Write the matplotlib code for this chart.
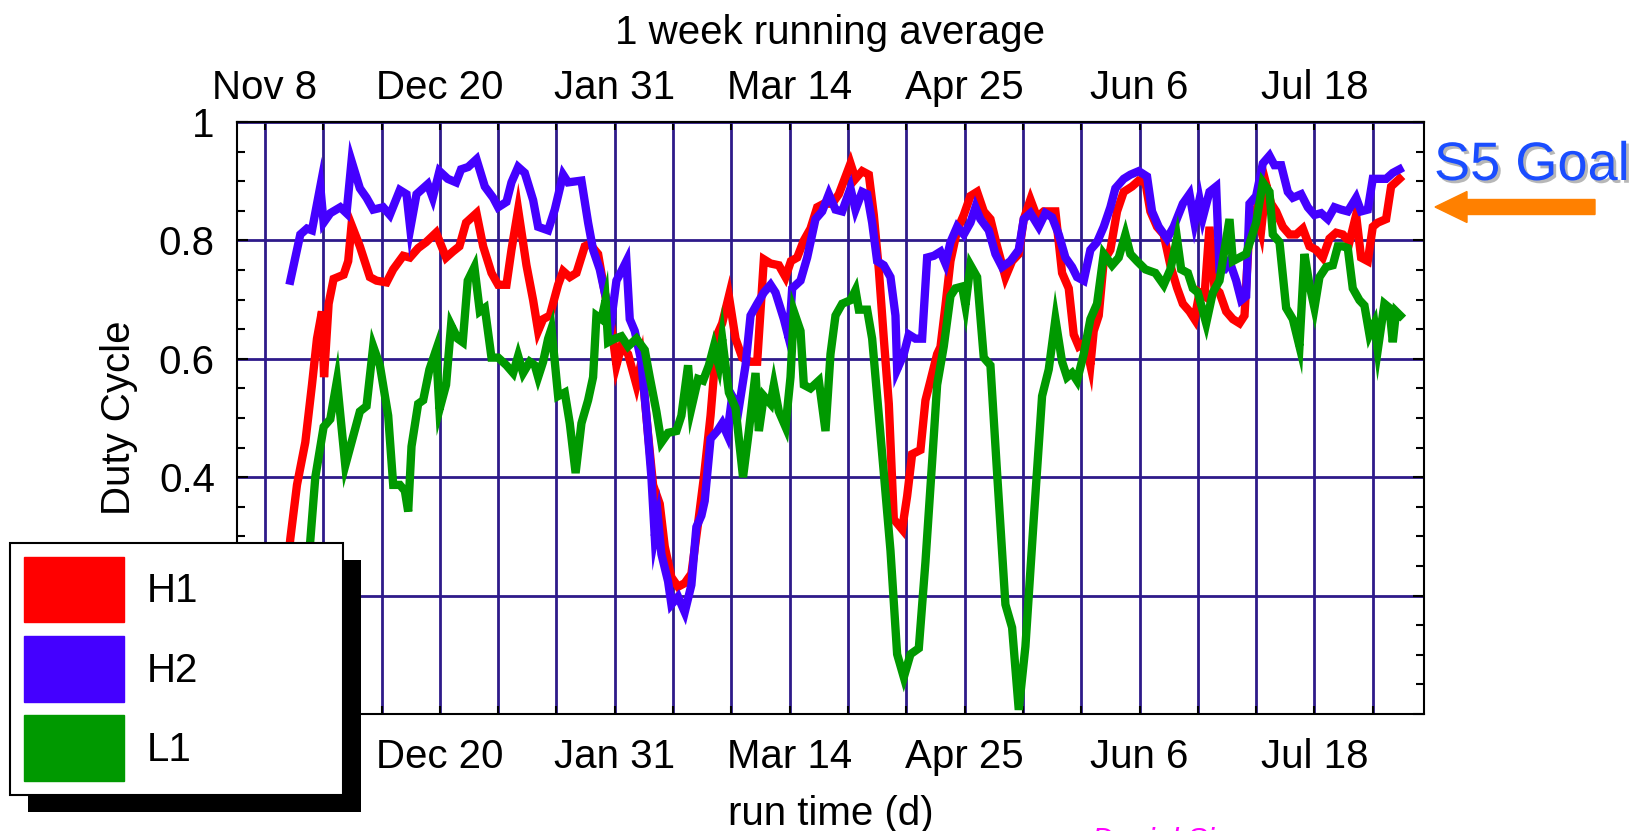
import matplotlib
matplotlib.use('Agg')
import matplotlib.pyplot as plt
import matplotlib.patheffects as pe
from matplotlib.patches import Rectangle, FancyArrow
from matplotlib.ticker import MultipleLocator, FuncFormatter

plt.rcParams['font.family'] = ['Liberation Sans', 'DejaVu Sans']

# run time in days, counted from Nov 8
h1_days = [5.0, 6.1, 7.7, 9.7, 11.3, 12.5, 13.7, 14.2, 15.3, 16.5, 18.9, 20.0, 20.8, 22.8, 25.2, 26.8,
           29.2, 30.8, 33.2, 34.8, 36.8, 38.7, 41.1, 43.5, 45.1, 46.7, 48.3, 50.8, 52.4, 54.4, 56.0,
           58.0, 59.2, 60.8, 62.8, 64.4, 65.6, 66.8, 68.4, 70.4, 71.6, 73.2, 74.8, 76.8, 78.0, 80.0,
           81.6, 83.2, 84.4, 85.6, 87.2, 89.2, 90.4, 92.0, 93.2, 94.8, 96.0, 97.6, 99.2, 100.8, 102.4,
           104.0, 105.4, 107.0, 108.6, 109.8, 111.4, 113.0, 114.6, 116.6, 118.2, 119.8, 121.4, 123.4,
           125.0, 126.3, 127.8, 129.4, 131.0, 132.6, 134.2, 136.2, 137.8, 139.4, 140.6, 141.8, 143.4,
           145.0, 146.2, 147.4, 148.6, 149.8, 151.0, 153.0, 154.2, 155.4, 157.4, 158.6, 159.8, 161.4,
           162.2, 163.4, 164.6, 166.2, 167.8, 169.4, 171.0, 172.6, 174.2, 175.8, 177.8, 179.4, 181.0,
           182.2, 183.8, 185.4, 187.0, 189.8, 191.4, 193.0, 194.2, 195.4, 197.0, 198.2, 199.0, 200.2,
           201.4, 203.0, 204.6, 206.2, 208.2, 209.8, 211.4, 212.6, 214.2, 215.8, 217.4, 219.0, 220.4,
           222.0, 223.2, 224.4, 225.6, 226.8, 228.0, 229.2, 230.8, 232.4, 234.0, 235.2, 236.4, 238.0,
           239.2, 240.4, 241.6, 242.8, 244.4, 246.0, 247.6, 249.2, 250.8, 252.4, 254.0, 255.6, 257.2,
           258.8, 260.4, 262.0, 263.2, 264.8, 266.0, 267.2, 269.2, 270.4, 272.4]
h1_duty = [0.22, 0.296, 0.387, 0.459, 0.556, 0.634, 0.68, 0.569, 0.693, 0.735, 0.742, 0.765, 0.826,
           0.79, 0.738, 0.732, 0.729, 0.751, 0.774, 0.771, 0.787, 0.797, 0.813, 0.771, 0.781, 0.79,
           0.83, 0.846, 0.79, 0.745, 0.725, 0.725, 0.784, 0.852, 0.758, 0.699, 0.647, 0.667, 0.673,
           0.725, 0.748, 0.738, 0.745, 0.79, 0.794, 0.777, 0.712, 0.654, 0.589, 0.621, 0.608, 0.556,
           0.595, 0.472, 0.387, 0.355, 0.283, 0.231, 0.215, 0.221, 0.237, 0.322, 0.40, 0.504, 0.641,
           0.66, 0.706, 0.634, 0.602, 0.595, 0.595, 0.768, 0.761, 0.758, 0.738, 0.765, 0.771, 0.80,
           0.82, 0.856, 0.862, 0.862, 0.878, 0.908, 0.93, 0.904, 0.917, 0.911, 0.843, 0.751, 0.634,
           0.524, 0.329, 0.312, 0.368, 0.439, 0.446, 0.53, 0.563, 0.608, 0.62, 0.69, 0.765, 0.817,
           0.843, 0.875, 0.882, 0.849, 0.836, 0.79, 0.738, 0.765, 0.777, 0.836, 0.869, 0.839, 0.849,
           0.849, 0.745, 0.719, 0.641, 0.621, 0.628, 0.589, 0.647, 0.673, 0.765, 0.784, 0.849, 0.882,
           0.891, 0.901, 0.898, 0.849, 0.823, 0.81, 0.758, 0.72, 0.693, 0.68, 0.667, 0.712, 0.706,
           0.823, 0.72, 0.712, 0.68, 0.667, 0.66, 0.673, 0.823, 0.852, 0.817, 0.895, 0.862, 0.849,
           0.823, 0.81, 0.81, 0.82, 0.79, 0.784, 0.771, 0.803, 0.813, 0.81, 0.797, 0.843, 0.771,
           0.765, 0.823, 0.83, 0.836, 0.891, 0.904]

h2_days = [6.1, 8.5, 10.1, 11.3, 13.3, 14.1, 15.7, 18.1, 19.6, 20.8, 22.8, 24.4, 26.0, 28.4, 30.0,
           32.4, 34.0, 34.9, 36.4, 39.1, 40.3, 41.9, 43.9, 45.9, 47.1, 48.8, 50.8, 52.8, 54.8, 56.0,
           58.0, 59.2, 60.8, 62.4, 64.4, 65.6, 68.0, 69.6, 71.6, 72.8, 76.0, 77.6, 78.8, 80.4, 82.0,
           83.2, 84.4, 85.6, 86.8, 87.6, 88.8, 90.4, 91.6, 92.8, 93.6, 94.4, 95.2, 96.8, 97.6, 99.2,
           100.8, 102.4, 103.6, 104.8, 105.6, 107.0, 108.6, 109.8, 111.0, 112.2, 113.8, 115.4, 116.6,
           118.2, 119.8, 121.4, 122.6, 124.6, 125.8, 126.6, 128.6, 130.2, 132.2, 133.8, 135.4, 137.0,
           138.6, 140.6, 141.8, 143.4, 144.6, 145.8, 147.0, 148.6, 150.2, 151.4, 151.8, 153.4, 154.6,
           156.2, 157.8, 159.0, 160.6, 162.2, 163.4, 164.6, 166.2, 167.8, 169.4, 170.6, 171.8, 173.8,
           175.4, 177.0, 179.0, 181.0, 182.2, 183.8, 185.8, 187.4, 189.0, 190.6, 192.2, 193.8, 195.0,
           196.6, 198.2, 199.8, 201.4, 203.0, 204.2, 206.2, 207.8, 209.8, 211.8, 213.0, 214.6, 216.6,
           218.2, 220.4, 222.0, 223.2, 224.4, 225.2, 226.8, 228.4, 229.2, 230.4, 231.6, 233.2, 234.4,
           235.6, 236.4, 238.0, 239.6, 241.2, 242.4, 244.0, 245.6, 246.8, 248.8, 250.4, 252.0, 253.6,
           255.2, 256.8, 258.4, 260.0, 262.0, 263.2, 264.8, 266.0, 267.2, 269.2, 270.8, 272.4]
h2_duty = [0.732, 0.81, 0.82, 0.817, 0.891, 0.83, 0.846, 0.856, 0.846, 0.934, 0.888, 0.872, 0.852,
           0.856, 0.843, 0.885, 0.878, 0.82, 0.878, 0.895, 0.872, 0.917, 0.904, 0.898, 0.92, 0.924,
           0.937, 0.891, 0.872, 0.856, 0.865, 0.898, 0.924, 0.914, 0.868, 0.823, 0.817, 0.852, 0.911,
           0.898, 0.901, 0.83, 0.784, 0.751, 0.699, 0.667, 0.732, 0.748, 0.765, 0.667, 0.647, 0.595,
           0.504, 0.40, 0.30, 0.33, 0.27, 0.224, 0.185, 0.198, 0.172, 0.218, 0.316, 0.335, 0.36,
           0.465, 0.478, 0.491, 0.472, 0.537, 0.517, 0.589, 0.673, 0.693, 0.712, 0.725, 0.712, 0.667,
           0.634, 0.719, 0.732, 0.771, 0.836, 0.849, 0.878, 0.852, 0.849, 0.888, 0.852, 0.882, 0.878,
           0.83, 0.765, 0.758, 0.738, 0.673, 0.582, 0.608, 0.641, 0.634, 0.634, 0.771, 0.774, 0.781,
           0.761, 0.797, 0.823, 0.81, 0.83, 0.856, 0.836, 0.817, 0.777, 0.755, 0.765, 0.784, 0.836,
           0.846, 0.823, 0.846, 0.839, 0.81, 0.771, 0.755, 0.738, 0.732, 0.784, 0.797, 0.823, 0.856,
           0.888, 0.904, 0.911, 0.917, 0.908, 0.849, 0.823, 0.803, 0.823, 0.862, 0.878, 0.83, 0.869,
           0.839, 0.882, 0.891, 0.751, 0.751, 0.765, 0.732, 0.699, 0.706, 0.862, 0.875, 0.93, 0.943,
           0.927, 0.927, 0.882, 0.872, 0.878, 0.856, 0.843, 0.846, 0.836, 0.856, 0.852, 0.849, 0.872,
           0.849, 0.852, 0.904, 0.904, 0.904, 0.914, 0.92]

l1_days = [10.2, 10.9, 12.1, 14.1, 15.7, 17.3, 19.3, 21.3, 22.8, 24.4, 26.0, 27.6, 29.6, 30.8, 32.4,
           33.6, 34.4, 35.2, 36.8, 38.0, 39.5, 41.1, 41.9, 43.5, 44.7, 46.3, 47.5, 48.7, 50.3, 51.6,
           52.8, 54.4, 56.0, 58.0, 59.6, 60.8, 62.0, 63.6, 64.8, 65.6, 66.8, 68.0, 68.8, 69.6, 70.4,
           72.0, 73.2, 74.6, 76.0, 77.6, 78.8, 79.6, 80.8, 81.8, 82.4, 84.0, 85.6, 87.2, 89.2, 91.2,
           92.4, 94.0, 95.2, 96.8, 98.8, 100.0, 101.6, 102.4, 104.0, 105.2, 106.6, 107.8, 109.0,
           109.8, 111.4, 113.0, 114.8, 116.2, 117.8, 118.6, 119.8, 121.4, 122.2, 123.4, 125.0, 126.2,
           127.0, 128.6, 129.4, 131.0, 133.0, 134.6, 135.8, 137.0, 138.6, 140.6, 141.8, 142.6, 144.6,
           145.8, 147.0, 148.6, 150.2, 151.8, 153.4, 155.0, 157.0, 158.6, 160.2, 161.4, 163.0, 164.6,
           165.8, 167.4, 168.2, 169.4, 171.0, 172.6, 174.2, 175.8, 177.8, 179.4, 181.0, 182.6, 184.6,
           186.6, 188.2, 189.8, 191.4, 192.6, 193.8, 195.0, 196.6, 198.2, 199.8, 201.4, 203.4, 205.0,
           206.6, 207.8, 209.4, 211.4, 213.8, 215.8, 217.4, 219.0, 220.0, 221.6, 222.8, 224.0, 226.0,
           227.6, 229.2, 231.6, 232.4, 234.0, 235.6, 238.0, 239.6, 241.2, 242.0, 243.6, 245.2, 246.8,
           248.4, 249.6, 250.8, 252.0, 253.2, 254.8, 256.4, 257.6, 258.8, 260.0, 261.2, 262.8, 264.0,
           265.2, 266.4, 267.2, 268.8, 270.0, 270.8, 271.6, 272.6]
l1_duty = [0.24, 0.293, 0.40, 0.485, 0.498, 0.563, 0.42, 0.472, 0.511, 0.52, 0.621, 0.589, 0.504,
           0.387, 0.387, 0.377, 0.342, 0.452, 0.524, 0.53, 0.582, 0.615, 0.514, 0.556, 0.657, 0.634,
           0.628, 0.732, 0.755, 0.68, 0.686, 0.602, 0.602, 0.589, 0.576, 0.605, 0.576, 0.595, 0.589,
           0.569, 0.595, 0.634, 0.651, 0.595, 0.537, 0.543, 0.491, 0.407, 0.491, 0.53, 0.569, 0.673,
           0.667, 0.699, 0.628, 0.634, 0.638, 0.621, 0.634, 0.615, 0.569, 0.511, 0.459, 0.475, 0.478,
           0.504, 0.589, 0.517, 0.566, 0.563, 0.589, 0.621, 0.589, 0.634, 0.543, 0.517, 0.40, 0.478,
           0.576, 0.478, 0.537, 0.524, 0.556, 0.511, 0.485, 0.569, 0.68, 0.647, 0.556, 0.55, 0.563,
           0.478, 0.608, 0.673, 0.693, 0.699, 0.716, 0.683, 0.683, 0.634, 0.537, 0.407, 0.276, 0.101,
           0.062, 0.101, 0.111, 0.257, 0.426, 0.556, 0.621, 0.706, 0.719, 0.722, 0.69, 0.758, 0.738,
           0.602, 0.589, 0.407, 0.185, 0.146, 0.007, 0.114, 0.329, 0.537, 0.582, 0.667, 0.595, 0.569,
           0.576, 0.563, 0.608, 0.667, 0.693, 0.777, 0.758, 0.771, 0.81, 0.777, 0.765, 0.751, 0.745,
           0.725, 0.751, 0.803, 0.751, 0.745, 0.719, 0.712, 0.66, 0.712, 0.732, 0.836, 0.765, 0.771,
           0.777, 0.83, 0.898, 0.882, 0.81, 0.797, 0.686, 0.667, 0.621, 0.777, 0.725, 0.686, 0.738,
           0.755, 0.758, 0.79, 0.79, 0.787, 0.719, 0.699, 0.69, 0.641, 0.66, 0.615, 0.693, 0.686,
           0.628, 0.68, 0.673]

date_ticks = [0, 42, 84, 126, 168, 210, 252]
date_labels = ['Nov 8', 'Dec 20', 'Jan 31', 'Mar 14', 'Apr 25', 'Jun 6', 'Jul 18']
duty_ticks = [0, 0.2, 0.4, 0.6, 0.8, 1]
duty_labels = ['0', '0.2', '0.4', '0.6', '0.8', '1']
series_names = ['H1', 'H2', 'L1']
series_colors = ['#ff0000', '#4400ff', '#009900']

FS = 29
GRID = '#2e1a8a'

fig = plt.figure(figsize=(16.39, 8.31), dpi=100)
ax = fig.add_axes([237 / 1639, 1 - 714 / 831, 1187 / 1639, 592 / 831])

for days, duty, c in zip([h1_days, h2_days, l1_days], [h1_duty, h2_duty, l1_duty], series_colors):
    ax.plot(days, duty, color=c, lw=6, solid_joinstyle='miter', zorder=3)

ax.set_xlim(-6.7, 278.3)
ax.set_ylim(0, 1)

# grid every two weeks, labels every six
ax.xaxis.set_major_locator(MultipleLocator(14))
ax.xaxis.set_major_formatter(FuncFormatter(
    lambda v, p: date_labels[date_ticks.index(int(round(v)))] if int(round(v)) in date_ticks else ''))
ax.set_yticks(duty_ticks, duty_labels)
ax.yaxis.set_minor_locator(MultipleLocator(0.05))

ax.tick_params(axis='x', which='major', direction='in', top=True, bottom=True,
               length=6, width=1.5, pad=17.5, labelsize=FS)
ax.tick_params(axis='y', which='major', direction='in', left=True, right=True,
               length=8, width=1.5, pad=16, labelsize=FS)
ax.tick_params(axis='y', which='minor', direction='in', left=True, right=True,
               length=6, width=1.5)

top = ax.secondary_xaxis('top')
top.set_xticks(date_ticks, date_labels)
top.tick_params(length=0, pad=11, labelsize=FS)
top.spines['top'].set_linewidth(1.5)

ax.grid(True, which='major', color=GRID, lw=2.0)
ax.set_axisbelow(True)
for s in ax.spines.values():
    s.set_linewidth(1.5)

ax.set_title('1 week running average', fontsize=FS, y=1.132, pad=0)
ax.set_xlabel('run time (d)', fontsize=FS)
ax.xaxis.set_label_coords(0.5, -0.137)
ax.set_ylabel('Duty Cycle', fontsize=FS)
ax.yaxis.set_label_coords(-0.083, 0.5)

# legend with solid black drop shadow
handles = [Rectangle((0, 0), 1, 1, color=c) for c in series_colors]
leg = fig.legend(handles, series_names, loc='upper left', mode='expand',
                 bbox_to_anchor=(10 / 1639, 1 - 794 / 831, 333 / 1639, 251 / 831),
                 bbox_transform=fig.transFigure, borderaxespad=0, fontsize=FS,
                 handlelength=2.48, handleheight=2.12, handletextpad=0.57,
                 labelspacing=0.34, borderpad=0.35, fancybox=False, framealpha=1,
                 edgecolor='black')
leg.get_frame().set_linewidth(1.5)
leg.set_zorder(6)
fig.canvas.draw()
bb = leg.get_window_extent()
shadow = Rectangle((bb.x0 + 18, bb.y0 - 17), bb.width, bb.height, transform=None,
                   facecolor='black', edgecolor='none', zorder=5)
fig.add_artist(shadow)

# goal marker on the right
fig.text(1434 / 1639, 1 - 180 / 831, 'S5 Goal', fontsize=39, color='#1a4dff',
         va='baseline', ha='left',
         path_effects=[pe.withSimplePatchShadow(offset=(2, -2), shadow_rgbFace='#999999', alpha=0.7)])
fig.add_artist(FancyArrow(15.95, 6.24, -1.6, 0, width=0.15, head_width=0.31, head_length=0.32,
                          length_includes_head=True, color='#ff8000', transform=fig.dpi_scale_trans))

fig.text(1092 / 1639, 1 - 827 / 831, 'Daniel Sigg', fontsize=22, color='#ff00ff',
         style='italic', va='top', ha='left')

fig.savefig('out.png', dpi=100)
